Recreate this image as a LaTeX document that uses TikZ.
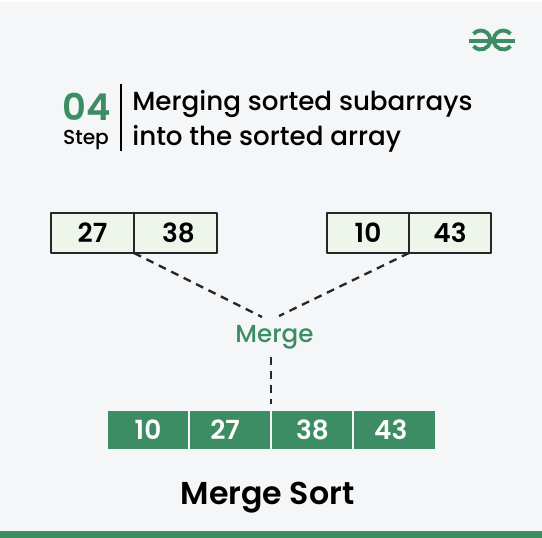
\documentclass[tikz,border=0pt]{standalone}
\usepackage{fontspec}
\setmainfont{Poppins Medium}[BoldFont=Poppins SemiBold]
\usetikzlibrary{positioning}
\definecolor{gfggreen}{HTML}{3C8D63}
\definecolor{pagebg}{HTML}{F4F6F8}
\definecolor{cellbg}{HTML}{EEF5EA}
\tikzset{
  cellbox/.style={draw=black!85, line width=1.1pt, fill=cellbg, minimum width=1.66cm, minimum height=0.8cm, inner sep=0pt, outer sep=0pt, font=\bfseries\fontsize{15}{15}\selectfont},
  sortedbox/.style={fill=gfggreen, text=white, minimum width=1.6cm, minimum height=0.76cm, inner sep=0pt, outer sep=0pt, font=\bfseries\fontsize{15}{15}\selectfont},
  dashlink/.style={draw=black!85, line width=1.3pt, dash pattern=on 4.5pt off 3.4pt, line cap=butt},
  logoline/.style={draw=gfggreen, line width=2.2pt, line cap=butt}
}
\begin{document}
\begin{tikzpicture}[x=0.02cm, y=-0.02cm, line join=round, line cap=round]
\useasboundingbox (0,0) rectangle (542,538);
\fill[pagebg] (0,0) rectangle (542,538);
\fill[white] (0,0) rectangle (542,2);
\fill[gfggreen] (0,531) rectangle (542,538);
% logo
\draw[logoline] (469,41) -- (515,41);
\draw[logoline] (473.5,33.9) arc (-140:140:9.5);
\draw[logoline] (510.5,33.9) arc (-40:-320:9.5);
% heading
\node[text=gfggreen, font=\bfseries\fontsize{21}{21}\selectfont, inner sep=0pt] (stepnum) at (87,107) {04};
\node[font=\fontsize{11.5}{12}\selectfont, inner sep=0pt] (steplabel) at (86,140) {Step};
\coordinate (ruletop) at (121,84);
\coordinate (rulebot) at (121,151);
\draw[line width=0.7pt, line cap=butt] (ruletop) -- (rulebot);
\node[anchor=west, align=left, inner sep=0pt, font=\fontsize{14.9}{20}\selectfont] (title) at (132,121) {Merging sorted subarrays\\into the sorted array};
% unsorted halves
\node[cellbox] (a27) at (92.5,233) {27};
\node[cellbox, right=0pt of a27] (a38) {\hspace{3.4pt}38};
\node[cellbox, minimum width=1.64cm] (b10) at (368,233) {10};
\node[cellbox, minimum width=1.64cm, right=0pt of b10] (b43) {43};
\draw[line width=1.6pt, draw=black!85] (a27.north east) -- (a27.south east);
% merge
\node[text=gfggreen, font=\fontsize{14}{14}\selectfont, inner sep=0pt] (merge) at (274.5,337) {Merge};
\coordinate (mergeleft) at (262,317);
\coordinate (mergeright) at (279,316);
% sorted row
\node[sortedbox] (c10) at (148,430) {10};
\node[sortedbox, right=0.04cm of c10] (c27) {\hspace{-5.6pt}27};
\node[sortedbox, right=0.05cm of c27] (c38) {38};
\node[sortedbox, minimum width=1.61cm, right=0.04cm of c38] (c43) {\hspace{-4.5pt}43};
\coordinate (mergedown) at (271,357);
\draw[dashlink] (a27.south east) -- (mergeleft);
\draw[dashlink] (b10.south east) -- (mergeright);
\draw[dashlink, shorten >=4pt] (mergedown) -- (mergedown |- c27.north);
\node[font=\bfseries\fontsize{18}{18}\selectfont, inner sep=0pt] (caption) at (267.5,498) {Merge Sort};
\end{tikzpicture}
\end{document}
